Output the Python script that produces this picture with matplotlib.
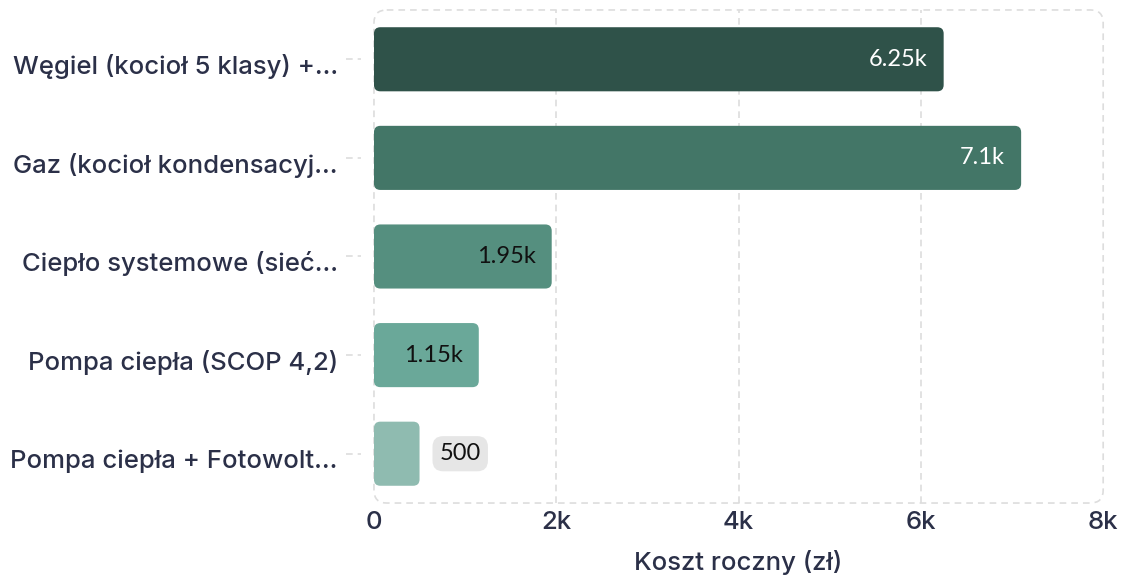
import matplotlib
matplotlib.use("Agg")
from matplotlib import pyplot as plt
from matplotlib.patches import FancyBboxPatch
from matplotlib.transforms import ScaledTranslation, blended_transform_factory

# data
categories = ["Węgiel (kocioł 5 klasy) +...", "Gaz (kocioł kondensacyj...",
              "Ciepło systemowe (sieć...", "Pompa ciepła (SCOP 4,2)",
              "Pompa ciepła + Fotowolt..."]
costs = [6250, 7100, 1950, 1150, 500]
value_labels = ["6.25k", "7.1k", "1.95k", "1.15k", "500"]
xticks = [0, 2000, 4000, 6000, 8000]
xtick_labels = ["0", "2k", "4k", "6k", "8k"]

bar_colors = ["#2f5249", "#437667", "#558f7f", "#6aa899", "#8fbbb0"]
text_colors = ["white", "white", "#111111", "#111111", "#111111"]
label_color = "#2b3048"
grid_color = "#dddddd"

fig = plt.figure(figsize=(11.21, 5.76), dpi=100)
ax = fig.add_axes([0.3336, 0.1267, 0.6505, 0.856])

ypos = range(len(categories))
bars = ax.barh(ypos, costs, height=0.65, color=bar_colors)
ax.set_xlim(0, 8000)
ax.set_ylim(4.5, -0.5)

# swap plain bars for rounded ones
for b, c in zip(bars, bar_colors):
    b.set_visible(False)
    x0, y0 = b.get_x(), b.get_y()
    w, h = b.get_width(), b.get_height()
    ax.add_patch(FancyBboxPatch((x0, y0), w, h,
                                boxstyle="round,pad=0,rounding_size=70",
                                mutation_aspect=0.065 / 70,
                                facecolor=c, edgecolor="none", zorder=3))

# value labels
for i, (v, lab) in enumerate(zip(costs, value_labels)):
    if v > 800:
        ax.text(v - 175, i, lab, ha="right", va="center", fontsize=17,
                family="Lato", color=text_colors[i], zorder=4)
    else:
        ax.text(v + 220, i, lab, ha="left", va="center", fontsize=17,
                family="Lato", color=text_colors[i], zorder=4,
                bbox=dict(boxstyle="round,pad=0.3,rounding_size=0.45",
                          facecolor="#e6e6e6", edgecolor="none"))

# dashed grid and rounded frame
for xv in xticks[1:-1]:
    ax.axvline(xv, color=grid_color, linestyle=(0, (4, 3)), linewidth=1.2, zorder=1)
for s in ax.spines.values():
    s.set_visible(False)
ax.add_patch(FancyBboxPatch((0, -0.5), 8000, 5,
                            boxstyle="round,pad=0,rounding_size=140",
                            mutation_aspect=0.13 / 140,
                            facecolor="none", edgecolor=grid_color,
                            linestyle=(0, (4, 3)), linewidth=1.2,
                            zorder=1, clip_on=False))
# little dashed ticks left of the frame
tr = blended_transform_factory(ax.transAxes, ax.transData)
for y in ypos:
    ax.plot([-0.038, -0.018], [y, y], transform=tr, color=grid_color,
            linestyle=(0, (4, 3)), linewidth=1.2, clip_on=False)

ax.set_yticks(list(ypos))
ax.set_yticklabels(categories, fontsize=18.5, family="Inter", weight="medium",
                   color=label_color)
ax.set_xticks(xticks)
ax.set_xticklabels(xtick_labels, fontsize=18.5, family="Inter", weight="medium",
                   color=label_color)
ax.tick_params(axis="y", length=0, pad=26)
ax.tick_params(axis="x", length=0, pad=6)
off = ScaledTranslation(0, -5 / 100, fig.dpi_scale_trans)
for t in ax.get_yticklabels():
    t.set_transform(t.get_transform() + off)
ax.set_xlabel("Koszt roczny (zł)", fontsize=18.5, family="Inter", weight="medium",
              color=label_color, labelpad=11)

fig.savefig("out.png", dpi=100)
